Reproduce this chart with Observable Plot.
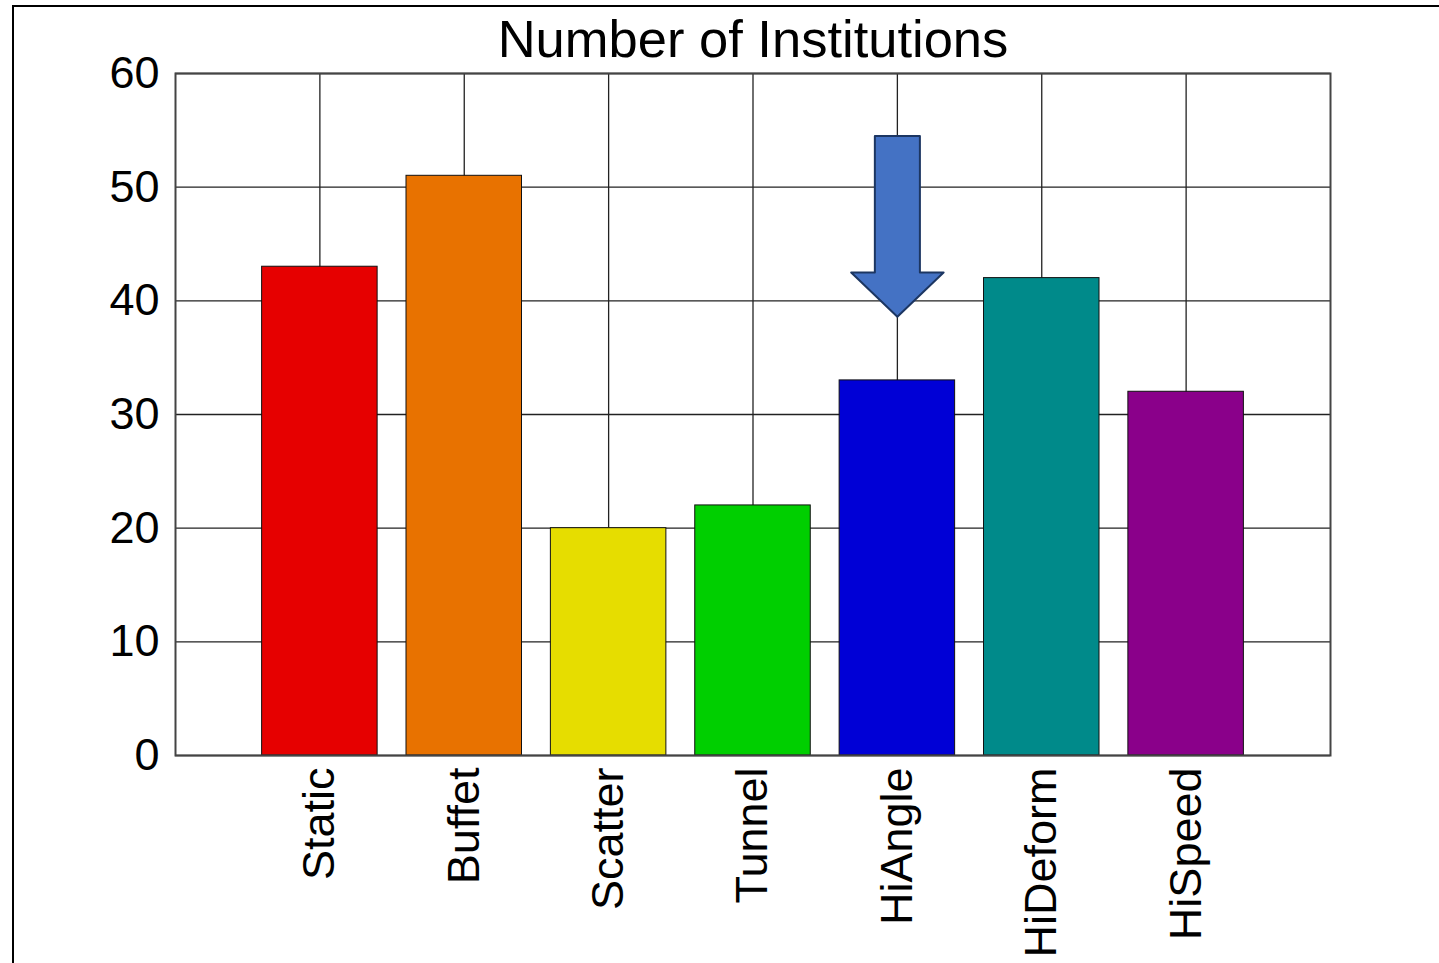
<!DOCTYPE html>
<html>
<head>
<meta charset="utf-8">
<script src="https://cdn.jsdelivr.net/npm/d3@7"></script>
<script src="https://cdn.jsdelivr.net/npm/@observablehq/plot@0.6"></script>
<style>
  html, body { margin: 0; padding: 0; background: #fff; overflow: hidden; }
  #wrap { position: relative; width: 1439px; height: 963px; }
  #border { position: absolute; left: 12px; top: 5px; right: -20px; bottom: -20px;
            border-left: 2px solid #000; border-top: 2px solid #000; pointer-events: none; }
</style>
</head>
<body>
<div id="wrap"><div id="border"></div></div>
<script>
const title = "Number of Institutions";
const categories = ["Static", "Buffet", "Scatter", "Tunnel", "HiAngle", "HiDeform", "HiSpeed"];
const values = [43, 51, 20, 22, 33, 42, 32];
const colors = ["#e60000", "#e87200", "#e6dd00", "#00cf00", "#0000d6", "#008a8a", "#8a008a"];
const yTicks = [0, 10, 20, 30, 40, 50, 60];
const arrowCategory = "HiAngle";
const arrowTop = 54.5;
const arrowHeadBase = 42.5;
const arrowTip = 38.6;

const positions = categories.map((c, i) => i + 1);
const rows = categories.map((c, i) => ({name: c, pos: positions[i], value: values[i], color: colors[i]}));

// block-arrow outline (x offsets are half-widths in slot units)
const ax = positions[categories.indexOf(arrowCategory)];
const shaft = 0.156, head = 0.32;
const arrowPts = [
  {x: ax - shaft, y: arrowTop},
  {x: ax - shaft, y: arrowHeadBase},
  {x: ax - head, y: arrowHeadBase},
  {x: ax, y: arrowTip},
  {x: ax + head, y: arrowHeadBase},
  {x: ax + shaft, y: arrowHeadBase},
  {x: ax + shaft, y: arrowTop},
  {x: ax - shaft, y: arrowTop}
];

const chart = Plot.plot({
  width: 1439,
  height: 963,
  marginTop: 73,
  marginLeft: 175,
  marginRight: 109,
  marginBottom: 208,
  style: {fontFamily: "'Liberation Sans', Arial, Helvetica, sans-serif", color: "#000", background: "transparent"},
  x: {type: "linear", domain: [0, categories.length + 1]},
  y: {domain: [0, 60]},
  color: {type: "identity"},
  marks: [
    Plot.gridY(yTicks, {stroke: "#222", strokeOpacity: 1, strokeWidth: 1.3}),
    Plot.gridX(positions, {stroke: "#222", strokeOpacity: 1, strokeWidth: 1.3}),
    Plot.rectY(rows, {x1: d => d.pos - 0.4, x2: d => d.pos + 0.4, y: "value", fill: "color", stroke: "#111", strokeWidth: 1}),
    Plot.line(arrowPts, {x: "x", y: "y", fill: "#4472c4", stroke: "#1c3662", strokeWidth: 2, curve: "linear"}),
    Plot.frame({stroke: "#444", strokeWidth: 2}),
    Plot.axisY(yTicks, {tickSize: 0, tickPadding: 16, fontSize: 45, label: null, tickFormat: d => String(d)}),
    Plot.axisX(positions, {tickSize: 0, tickPadding: 12, tickRotate: -90, fontSize: 45, label: null, tickFormat: p => categories[p - 1]}),
    Plot.text([title], {frameAnchor: "top", lineAnchor: "bottom", dy: -17, fontSize: 52.5, fill: "#000"})
  ]
});
document.getElementById("wrap").appendChild(chart);
</script>
</body>
</html>
